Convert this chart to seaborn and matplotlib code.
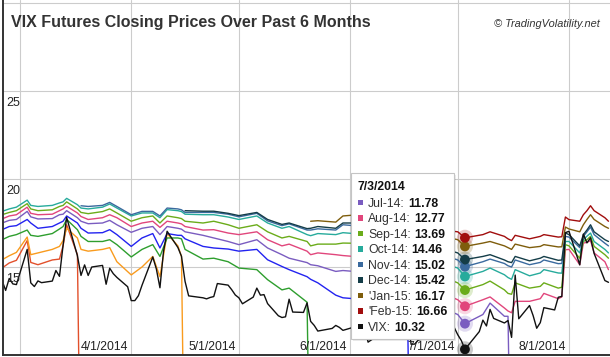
import pandas as pd
import numpy as np

import matplotlib
matplotlib.use("Agg")
import matplotlib.pyplot as plt
import matplotlib.dates as mdates
from matplotlib.patches import Rectangle, FancyBboxPatch
import seaborn as sns

sns.set_style("white")
plt.rcParams["font.family"] = ["Liberation Sans", "DejaVu Sans"]

W, H = 610, 357

sample_days = [
    "2014-02-24", "2014-02-26", "2014-02-28", "2014-03-03", "2014-03-04", "2014-03-06", "2014-03-10", "2014-03-12", "2014-03-13", "2014-03-14",
    "2014-03-17", "2014-03-18", "2014-03-20", "2014-03-24", "2014-03-26", "2014-03-28", "2014-04-01", "2014-04-04", "2014-04-07", "2014-04-09",
    "2014-04-11", "2014-04-14", "2014-04-15", "2014-04-16", "2014-04-21", "2014-04-24", "2014-04-28", "2014-05-01", "2014-05-06", "2014-05-09",
    "2014-05-13", "2014-05-15", "2014-05-20", "2014-05-21", "2014-05-23", "2014-05-28", "2014-05-30", "2014-06-02", "2014-06-17", "2014-06-18",
    "2014-07-01", "2014-07-03", "2014-07-08", "2014-07-10", "2014-07-14", "2014-07-15", "2014-07-16", "2014-07-17", "2014-07-21", "2014-07-24",
    "2014-07-25", "2014-07-29", "2014-07-30", "2014-07-31", "2014-08-01", "2014-08-04", "2014-08-05", "2014-08-06", "2014-08-07", "2014-08-08",
    "2014-08-11", "2014-08-12",
]

mar14 = [14.94, 15.23, 15.38, 16.5, 15.26, 15.13, 15.4, 15.45, 16.2, 17.4, 15.7, 0] + [None] * 50
apr14 = [15.41, 15.64, 15.83, 16.7, 15.7, 15.8, 16.0, 16.17, 16.5, 17.2, 16.65, 16.0, 15.9, 16.0, 16.1, 15.3,
         14.55, 15.0, 15.6, 14.45, 16.9, 16.2, 15.6, 0] + [None] * 38
may14 = [16.55, 16.74, 16.84, 17.1, 16.8, 16.74, 16.9, 17.16, 17.3, 17.7, 17.12, 16.74, 16.45, 16.45, 16.55, 16.27,
         15.57, 16.0, 16.27, 15.6, 16.65, 16.65, 16.6, 16.0, 15.45, 15.5, 15.3, 14.94, 14.85, 14.28, 13.7, 13.8,
         13.0, 0] + [None] * 28
jun14 = [17.12, 17.3, 17.35, 17.7, 17.5, 17.2, 17.3, 17.5, 17.6, 17.9, 17.5, 17.2, 16.93, 16.95, 17.12, 16.84,
         16.17, 16.65, 16.9, 16.08, 16.9, 16.8, 16.8, 16.6, 16.17, 16.08, 16.02, 15.9, 16.0, 15.41, 15.03, 14.85,
         14.45, 14.3, 14.1, 13.4, 13.25, 13.2, 12.3, 0] + [None] * 22
jul14 = [17.5, 17.65, 17.7, 18.16, 17.85, 17.73, 17.75, 17.97, 18.0, 18.2, 17.8, 17.6, 17.46, 17.5, 17.65, 17.4,
         16.97, 17.2, 17.3, 16.84, 17.3, 17.2, 17.15, 17.0, 16.8, 16.65, 16.45, 16.27, 16.55, 16.08, 15.7, 15.5,
         15.25, 15.13, 15.07, 14.75, 14.8, 14.75] + [None, None] + [12.3, 11.78, 12.3, 12.95, 12.2, 12.2, 0] + [None] * 15
aug14 = [17.73, 17.9, 17.97, 18.4, 18.05, 17.97, 18.0, 18.2, 18.3, 18.45, 18.07, 17.87, 17.7, 17.8, 17.97, 17.8,
         17.3, 17.5, 17.6, 17.25, 17.6, 17.5, 17.45, 17.3, 17.1, 17.12, 16.93, 16.84, 17.0, 16.55, 16.2, 16.3,
         15.9, 15.7, 15.8, 15.7, 15.65, 15.6] + [None, None] + \
        [13.14, 12.77, 13.14, 13.3, 12.67, 12.5, 12.4, 13.05, 13.05, 13.2, 13.5, 13.2, 13.3, 15.98, 16.0, 15.13,
         16.36, 16.4, 16.5, 15.8, 15.3, 14.85]
sep14 = [17.97, 18.1, 18.2, 18.6, 18.3, 18.2, 18.25, 18.44, 18.5, 18.7, 18.3, 18.1, 18.03, 18.15, 18.3, 18.07,
         17.6, 17.8, 17.9, 17.5, 17.9, 17.8, 17.75, 17.6, 17.5, 17.6, 17.4, 17.2, 17.4, 17.0, 16.65, 16.74,
         16.45, 16.2, 16.3, 16.3, 16.36, 16.35] + [None, None] + \
        [14.1, 13.69, 14.0, 14.2, 13.7, 13.5, 13.45, 14.1, 13.8, 13.9, 14.1, 13.8, 13.85, 16.27, 16.2, 15.5,
         16.45, 16.55, 16.74, 16.17, 15.7, 15.5]
oct14 = [18.16, 18.3, 18.4, 18.8, 18.5, 18.44, 18.5, 18.64, 18.7, 18.9, 18.54, 18.35, 18.3, 18.4, 18.58, 18.35,
         17.9, 18.07, 18.07, 17.8, 18.26, 18.2, 18.15, 18.0, 17.97, 17.97, 17.84, 17.7, 17.9, 17.5, 17.2, 17.3,
         16.84, 16.78, 16.9, 16.84, 16.95, 16.9] + [None, None] + \
        [14.94, 14.46, 14.75, 14.94, 14.56, 14.4, 14.3, 14.85, 14.5, 14.66, 14.85, 14.66, 14.65, 16.45, 16.45, 15.8,
         16.55, 16.75, 16.93, 16.45, 16.0, 15.8]
nov14 = [None] * 11 + \
        [18.48, 18.44, 18.5, 18.67, 18.44, 17.97, 18.16, 18.16, 17.9, 18.35, 18.3, 18.25, 18.1, 18.1, 18.1, 18.0,
         17.85, 18.05, 17.62, 17.35, 17.45, 17.1, 17.1, 17.17, 17.1, 17.4, 17.35] + [None, None] + \
        [15.4, 15.02, 15.3, 15.45, 15.2, 15.07, 15.0, 15.4, 15.13, 15.26, 15.4, 15.19, 15.2, 16.74, 16.7, 16.1,
         16.74, 17.0, 17.27, 16.84, 16.35, 16.2]
dec14 = [None] * 23 + \
        [18.2, 18.17, 18.17, 18.05, 17.92, 18.1, 17.7, 17.42, 17.5, 17.18, 17.2, 17.3, 17.2, 17.5, 17.5] + [None, None] + \
        [15.8, 15.42, 15.6, 15.7, 15.4, 15.3, 15.25, 15.6, 15.35, 15.5, 15.6, 15.38, 15.4, 16.93, 16.84, 16.2,
         16.84, 17.1, 17.4, 17.0, 16.55, 16.45]
jan15 = [None] * 33 + [17.6, 17.63, 17.55, 17.9, 17.95] + [None, None] + \
        [16.55, 16.17, 16.36, 16.45, 16.2, 16.1, 16.0, 16.3, 16.1, 16.17, 16.27, 16.14, 16.15, 17.27, 17.16, 17.0,
         17.4, 17.7, 17.97, 17.7, 17.3, 17.2]
feb15 = [None] * 39 + [17.3] + \
        [17.0, 16.66, 16.84, 17.0, 16.74, 16.6, 16.5, 16.8, 16.6, 16.74, 16.84, 16.7, 16.72, 17.84, 17.69, 17.6,
         17.97, 18.2, 18.48, 18.2, 17.8, 17.6]

vix = [14.23, 13.67, 14.35, 14.04, 14.00,
       16.00, 14.10, 13.89, 14.21, 14.11, 14.20, 14.80, 14.47, 16.22, 17.82, 15.64, 14.52, 15.12, 14.52, 15.00,
       15.09, 14.02, 14.93, 14.62, 14.41, 13.88,
       13.09, 13.09, 13.37, 13.96, 15.57, 14.89, 13.82, 15.89, 17.03, 16.11, 15.61, 14.18, 13.36, 13.25, 13.19,
       13.27, 13.32, 14.06, 13.97, 13.71, 13.41,
       13.25, 12.91, 13.29, 13.80, 13.40, 13.43, 12.92, 12.23, 12.13, 12.17, 13.17, 12.44, 12.42, 12.96, 11.91,
       11.68, 11.36, 11.51, 11.68, 11.57, 11.40,
       11.58, 11.87, 11.68, 11.68, 10.73, 11.15, 10.99, 11.60, 12.56, 12.18, 12.65, 12.06, 10.61, 10.62, 10.85,
       10.98, 12.13, 11.59, 11.63, 11.26, 11.57,
       11.15, 10.82, 10.32, 11.33, 11.98, 11.65, 12.59, 12.08, 11.82, 11.96, 11.00, 14.54, 12.06, 12.81, 12.24,
       11.52, 11.84, 12.69, 12.56, 13.28, 13.33, 16.95,
       17.03, 15.12, 16.87, 16.37, 16.66, 15.77, 14.23, 14.13]
vix_days = pd.bdate_range("2014-02-24", "2014-08-12").drop(pd.to_datetime(["2014-04-18", "2014-05-26", "2014-07-04"]))

contracts = ["Mar-14", "Apr-14", "May-14", "Jun-14", "Jul-14", "Aug-14", "Sep-14", "Oct-14",
             "Nov-14", "Dec-14", "Jan-15", "Feb-15"]
series_values = [mar14, apr14, may14, jun14, jul14, aug14, sep14, oct14, nov14, dec14, jan15, feb15]
colors = ["#e2502b", "#f99b1e", "#2e9e2e", "#2323f0", "#7a5cc0", "#e1467c", "#6bac1a", "#27ab9c",
          "#3a6a9e", "#143d48", "#7e5d0c", "#a10d0d", "#111111"]

tip_date = "2014-07-03"
tip_series = ["Jul-14", "Aug-14", "Sep-14", "Oct-14", "Nov-14", "Dec-14", "Jan-15", "Feb-15", "VIX"]
tip_labels = ["Jul-14", "Aug-14", "Sep-14", "Oct-14", "Nov-14", "Dec-14", "'Jan-15", "'Feb-15", "VIX"]
tip_values = [11.78, 12.77, 13.69, 14.46, 15.02, 15.42, 16.17, 16.66, 10.32]

frames = []
for name, vals in zip(contracts, series_values):
    frames.append(pd.DataFrame({"date": pd.to_datetime(sample_days), "value": vals, "series": name}))
frames.append(pd.DataFrame({"date": vix_days, "value": vix, "series": "VIX"}))
df = pd.concat(frames, ignore_index=True).dropna()

order = contracts + ["VIX"]
palette = dict(zip(order, colors))

fig = plt.figure(figsize=(W / 100, H / 100), dpi=100)
ax = fig.add_axes([3 / W, 2 / H, 607 / W, 355 / H])

sns.lineplot(data=df, x="date", y="value", hue="series", hue_order=order, palette=palette,
             estimator=None, lw=1.0, legend=False, ax=ax)

marks = pd.DataFrame({"date": pd.to_datetime([tip_date] * len(tip_values)),
                      "value": tip_values, "series": tip_series})
sns.scatterplot(data=marks, x="date", y="value", hue="series", palette=palette, s=135, alpha=0.22,
                linewidth=0, legend=False, ax=ax)
sns.scatterplot(data=marks, x="date", y="value", hue="series", palette=palette, s=50,
                linewidth=0, legend=False, ax=ax)

px_per_day = 549 / 153
left = mdates.date2num(pd.Timestamp("2014-03-01")) - 17 / px_per_day
ax.set_xlim(left, left + 607 / px_per_day)
ax.set_ylim(10, 10 + 355 / 17.6)

months = pd.date_range("2014-03-01", "2014-08-01", freq="MS")
ax.set_xticks(mdates.date2num(months))
ax.set_yticks([15, 20, 25, 30])
ax.grid(True, color="#cccccc", lw=0.8)
ax.tick_params(length=0, labelbottom=False, labelleft=False)
ax.set_xlabel("")
ax.set_ylabel("")
for side in ["top", "right"]:
    ax.spines[side].set_visible(False)
for side in ["left", "bottom"]:
    ax.spines[side].set_color("#333333")
    ax.spines[side].set_linewidth(1.4)

for val in [15, 20, 25]:
    ax.annotate(str(val), xy=(0, val), xycoords=("axes fraction", "data"), xytext=(3, -15),
                textcoords="offset pixels", ha="left", va="baseline", fontsize=9, color="#222222")

for m in months[1:]:
    ax.annotate(f"{m.month}/1/2014", xy=(mdates.date2num(m), 0), xycoords=("data", "axes fraction"),
                xytext=(-3, 5), textcoords="offset pixels", ha="right", va="baseline",
                fontsize=8.8, color="#222222")

fig.text(11 / W, 1 - 27 / H, "VIX Futures Closing Prices Over Past 6 Months", fontsize=11.5,
         fontweight="bold", color="#333333", va="baseline")
fig.text(600 / W, 1 - 27 / H, "\u00a9 TradingVolatility.net", fontsize=7.9, style="italic",
         color="#333333", ha="right", va="baseline")

# tooltip box
shadow = FancyBboxPatch((353 / W, 1 - 341 / H), 103 / W, 166 / H, boxstyle="square,pad=0",
                        transform=fig.transFigure, fc="black", ec="none", alpha=0.08)
box = FancyBboxPatch((351 / W, 1 - 339 / H), 103 / W, 166 / H, boxstyle="square,pad=0",
                     transform=fig.transFigure, fc="white", ec="#c4c4c4", lw=0.8)
fig.patches.extend([shadow, box])

fig.text(357 / W, 1 - 190 / H, "7/3/2014", fontsize=8.8, fontweight="bold", color="#111111", va="baseline")
renderer = fig.canvas.get_renderer()
for i, (name, lab, val) in enumerate(zip(tip_series, tip_labels, tip_values)):
    cy = 202.3 + 15.55 * i
    fig.patches.append(Rectangle((358 / W, 1 - (cy + 2.7) / H), 5.4 / W, 5.4 / H,
                                 transform=fig.transFigure, fc=palette[name], ec="none"))
    t = fig.text(368 / W, 1 - (cy + 4.3) / H, lab + ":", fontsize=8.8, color="#333333", va="baseline")
    bb = t.get_window_extent(renderer=renderer)
    fig.text((bb.x1 + 3.5) / W, 1 - (cy + 4.3) / H, f"{val:.2f}", fontsize=8.8, fontweight="bold",
             color="#111111", va="baseline")

fig.savefig("out.png", dpi=100)
